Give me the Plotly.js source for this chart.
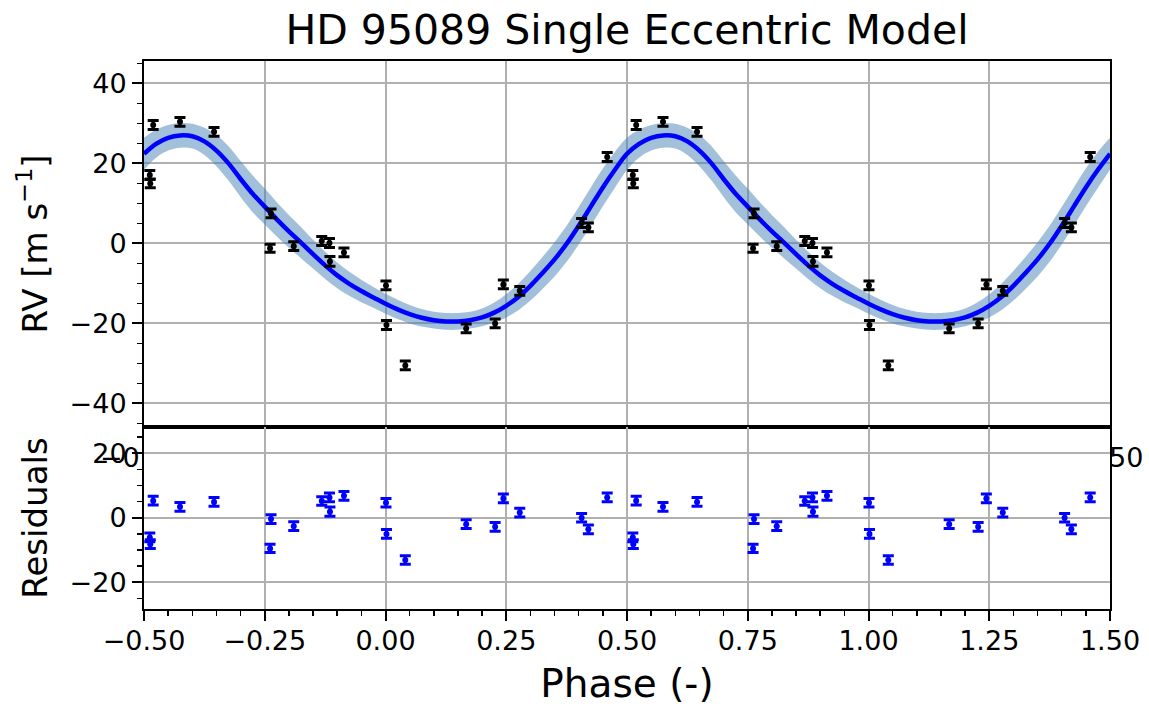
<!DOCTYPE html>
<html>
<head>
<meta charset="utf-8">
<script src="https://cdn.plot.ly/plotly-3.0.1.min.js"></script>
<style>
  html, body { margin: 0; padding: 0; background: #ffffff; }
  #chart { width: 1149px; height: 713px; }
</style>
</head>
<body>
<div id="chart"></div>
<script>
// ---- Observations (one phase cycle; the plot shows each point at phase and phase+1) ----
const obsPhase = [-0.488, -0.487, -0.481, -0.4255, -0.355, -0.237, -0.239, -0.190, -0.132, -0.116, -0.115,
                  -0.086, 0.001, 0.002, 0.041, 0.167, 0.227, 0.244, 0.278, 0.406, 0.420, 0.459];
const obsRV    = [17.1, 15.0, 29.6, 30.4, 27.9, 7.5, -1.2, -0.7, 0.6, 0.1, -4.5,
                  -2.25, -10.5, -20.4, -30.5, -21.25, -20.0, -10.25, -11.85, 5.1, 4.0, 21.6];
const obsErr   = [1.1, 1.1, 1.1, 1.1, 1.1, 1.1, 1.0, 1.1, 1.1, 1.1, 1.2,
                  1.1, 1.1, 1.1, 1.1, 1.1, 1.1, 1.1, 1.1, 1.1, 1.1, 1.1];
const resid    = [-6.1, -8.2, 5.3, 3.4, 4.9, -0.4, -9.5, -2.6, 5.2, 6.3, 1.9,
                  6.8, 4.65, -5.0, -13.1, -2.0, -2.8, 6.0, 1.6, 0.0, -3.6, 6.3];
const residErr = [1.35, 1.35, 1.35, 1.35, 1.35, 1.35, 1.3, 1.35, 1.35, 1.35, 1.4,
                  1.35, 1.35, 1.35, 1.35, 1.35, 1.35, 1.35, 1.35, 1.35, 1.35, 1.35];

// ---- Model curve (one cycle) ----
const modelPhase = [-0.500, -0.475, -0.450, -0.425, -0.400, -0.375, -0.350, -0.325, -0.300, -0.275,
                    -0.250, -0.225, -0.200, -0.175, -0.150, -0.125, -0.100, -0.075, -0.050, -0.025,
                     0.000,  0.025,  0.050,  0.075,  0.100,  0.125,  0.150,  0.175,  0.200,  0.225,
                     0.250,  0.275,  0.300,  0.325,  0.350,  0.375,  0.400,  0.425,  0.450,  0.475, 0.500];
const modelRV    = [22.4, 24.9, 26.4, 27.0, 26.8, 25.5, 23.2, 20.0, 16.1, 12.4,
                     9.2,  6.0,  3.0,  0.2, -2.7, -5.5, -8.0, -10.1, -11.9, -13.5,
                   -15.1, -16.5, -17.7, -18.6, -19.2, -19.5, -19.5, -19.2, -18.5, -17.3,
                   -15.6, -13.4, -10.6, -7.4, -4.0, -0.1, 4.4, 9.2, 14.0, 18.4, 22.4];
const modelSig   = [4.0, 3.5, 3.2, 3.1, 3.1, 3.4, 3.9, 4.3, 4.5, 4.6,
                    4.5, 4.3, 4.1, 3.9, 3.6, 3.4, 3.2, 3.0, 2.8, 2.6,
                    2.5, 2.4, 2.3, 2.2, 2.1, 2.1, 2.1, 2.1, 2.2, 2.5,
                    2.9, 3.3, 3.7, 4.0, 4.3, 4.5, 4.7, 4.8, 4.7, 4.5, 4.0];

// ---- Axis ticks ----
const xTicks = [-0.5, -0.25, 0, 0.25, 0.5, 0.75, 1.0, 1.25, 1.5];
const xTickText = ['\u22120.50', '\u22120.25', '0.00', '0.25', '0.50', '0.75', '1.00', '1.25', '1.50'];
const rvTicks = [-40, -20, 0, 20, 40];
const resTicks = [-20, 0, 20];

// two copies of the cycle
const mx = modelPhase.concat(modelPhase.slice(1).map(p => p + 1));
const my = modelRV.concat(modelRV.slice(1));
const ms = modelSig.concat(modelSig.slice(1));
const upper = my.map((v, i) => v + ms[i]);
const lower = my.map((v, i) => v - ms[i]);
const px = obsPhase.concat(obsPhase.map(p => p + 1));
const pRV = obsRV.concat(obsRV);
const pErr = obsErr.concat(obsErr);
const pRes = resid.concat(resid);
const pResErr = residErr.concat(residErr);

const FONT = 'DejaVu Sans, sans-serif';
const band = 'rgba(70,130,180,0.5)';

const traces = [
  { x: mx, y: upper, xaxis: 'x', yaxis: 'y', mode: 'lines', line: { width: 0, shape: 'spline' },
    hoverinfo: 'skip', showlegend: false },
  { x: mx, y: lower, xaxis: 'x', yaxis: 'y', mode: 'lines', line: { width: 0, shape: 'spline' },
    fill: 'tonexty', fillcolor: band, hoverinfo: 'skip', showlegend: false },
  { x: mx, y: my, xaxis: 'x', yaxis: 'y', mode: 'lines', line: { color: '#0000ff', width: 4.5, shape: 'spline' },
    showlegend: false, name: 'model' },
  { x: px, y: pRV, xaxis: 'x', yaxis: 'y', mode: 'markers', type: 'scatter',
    marker: { color: '#000000', size: 6 },
    error_y: { type: 'data', array: pErr, visible: true, color: '#000000', thickness: 3, width: 5.5 },
    showlegend: false, name: 'RV' },
  { x: px, y: pRes, xaxis: 'x2', yaxis: 'y2', mode: 'markers', type: 'scatter',
    marker: { color: '#0000ff', size: 6 },
    error_y: { type: 'data', array: pResErr, visible: true, color: '#0000ff', thickness: 3, width: 5.5 },
    showlegend: false, name: 'residuals' }
];

const gridC = '#b0b0b0';
const axCommon = {
  showline: true, linecolor: '#000000', linewidth: 2, mirror: true,
  showgrid: true, gridcolor: gridC, gridwidth: 2, zeroline: false,
  tickfont: { family: FONT, size: 27, color: '#000000' },
  ticks: 'outside', ticklen: 10, tickwidth: 2, tickcolor: '#000000'
};

const split = 182 / 548;

const layout = {
  width: 1149, height: 713,
  margin: { l: 144, r: 39, t: 61, b: 104 },
  paper_bgcolor: '#ffffff', plot_bgcolor: '#ffffff',
  showlegend: false,
  font: { family: FONT, color: '#000000' },
  title: { text: 'HD 95089 Single Eccentric Model', font: { family: FONT, size: 41, color: '#000000' },
           x: 0.5, xref: 'paper', xanchor: 'center', y: 1 - 30 / 713, yref: 'container', yanchor: 'middle' },
  xaxis: Object.assign({}, axCommon, {
    domain: [0, 1], anchor: 'y', matches: 'x2', range: [-0.5, 1.5],
    tickvals: xTicks, ticktext: xTickText, showticklabels: false, ticks: ''
  }),
  yaxis: Object.assign({}, axCommon, {
    domain: [split, 1], anchor: 'x', range: [-45.9, 45.6],
    tickvals: rvTicks,
    minor: { dtick: 5, tick0: 0, ticks: 'outside', ticklen: 5, tickwidth: 1.5, tickcolor: '#000000', showgrid: false },
    title: { text: 'RV [m s<sup>\u22121</sup>]', font: { family: FONT, size: 34, color: '#000000' }, standoff: 12 }
  }),
  xaxis2: Object.assign({}, axCommon, {
    domain: [0, 1], anchor: 'y2', range: [-0.5, 1.5],
    tickvals: xTicks, ticktext: xTickText, ticklabelstandoff: -3,
    minor: { dtick: 0.05, tick0: 0, ticks: 'outside', ticklen: 5, tickwidth: 1.5, tickcolor: '#000000', showgrid: false },
    title: { text: 'Phase (-)', font: { family: FONT, size: 39, color: '#000000' }, standoff: 14 }
  }),
  yaxis2: Object.assign({}, axCommon, {
    domain: [0, split], anchor: 'x2', range: [-28.3, 28.15],
    tickvals: resTicks,
    minor: { dtick: 5, tick0: 0, ticks: 'outside', ticklen: 5, tickwidth: 1.5, tickcolor: '#000000', showgrid: false },
    title: { text: 'Residuals', font: { family: FONT, size: 34, color: '#000000' }, standoff: 12 }
  }),
  annotations: [
    { text: '\u22120', xref: 'paper', yref: 'paper', x: -1.6 / 966, y: (609 - 457) / 548,
      xanchor: 'right', yanchor: 'middle', showarrow: false, font: { family: FONT, size: 27, color: '#000000' } },
    { text: '50', xref: 'paper', yref: 'paper', x: (1106.6 - 144) / 966, y: (609 - 457) / 548,
      xanchor: 'left', yanchor: 'middle', showarrow: false, font: { family: FONT, size: 27, color: '#000000' } }
  ]
};

Plotly.newPlot('chart', traces, layout, { staticPlot: true, displayModeBar: false });
</script>
</body>
</html>
